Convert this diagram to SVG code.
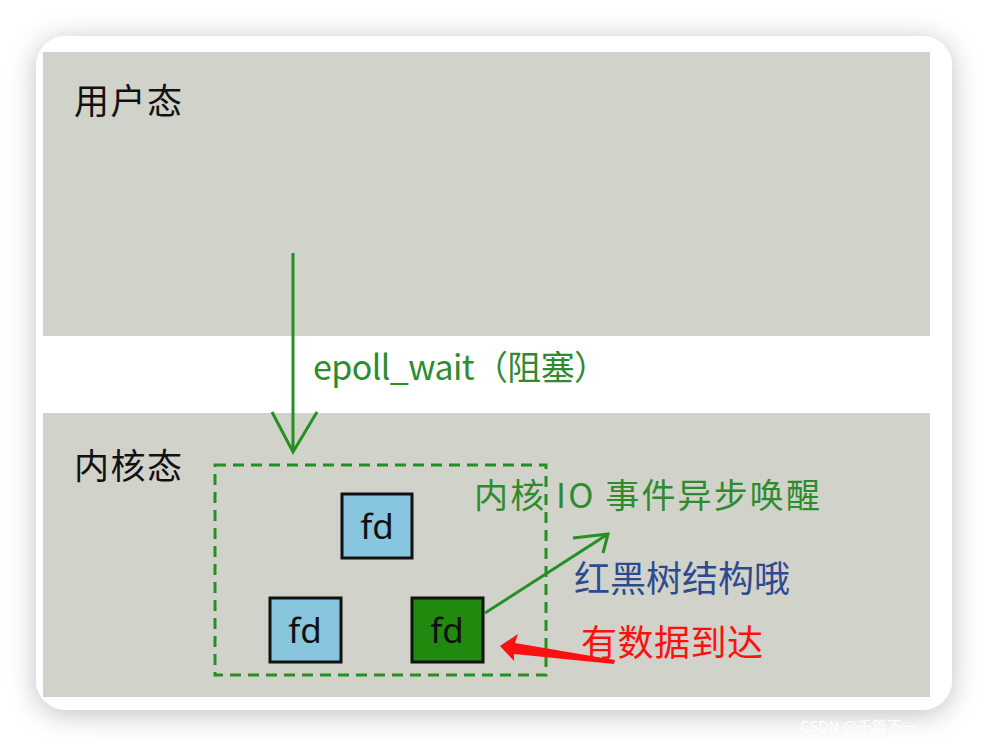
<svg xmlns="http://www.w3.org/2000/svg" width="988" height="748" viewBox="0 0 988 748">
<defs>
<filter id="sh" x="-10%" y="-10%" width="120%" height="120%">
<feDropShadow dx="0" dy="4" stdDeviation="14" flood-color="#000" flood-opacity="0.25"/>
</filter>
<style>
.t{font-family:"Noto Sans CJK SC","Microsoft YaHei",sans-serif;}
.lbl{font-size:35px;fill:#111;}
.g{fill:#2e8b2e;font-size:34px;}
.fdbox{stroke:#111;stroke-width:3;}
.fdt{font-family:"Noto Sans","Liberation Sans",sans-serif;font-size:35px;fill:#111;text-anchor:middle;}
.gl{stroke:#249024;stroke-width:3;fill:none;}
</style>
</defs>
<rect x="0" y="0" width="988" height="748" fill="#ffffff"/>
<rect x="36" y="36" width="916" height="674" rx="30" fill="#ffffff" filter="url(#sh)"/>
<rect x="43" y="52" width="887" height="284" fill="#d1d2ca"/>
<rect x="43" y="413" width="887" height="284" fill="#d1d2ca"/>
<g id="user-label"><text class="t lbl" x="74" y="114" textLength="108">用户态</text></g>
<g id="kernel-label"><text class="t lbl" x="74" y="479" textLength="108">内核态</text></g>
<g id="epoll-set"><rect x="215" y="465" width="331" height="210" fill="none" stroke="#249024" stroke-width="3" stroke-dasharray="11,7"/></g>
<g id="fd1"><rect class="fdbox" x="342" y="494" width="70" height="64" fill="#88c6df"/><text class="fdt" x="377" y="539">fd</text></g>
<g id="fd2"><rect class="fdbox" x="270" y="598" width="71" height="64" fill="#88c6df"/><text class="fdt" x="305" y="643">fd</text></g>
<g id="fd3"><rect class="fdbox" x="412" y="598" width="71" height="64" fill="#1f8a0e"/><text class="fdt" x="447" y="643">fd</text></g>
<g id="connectors">
<path class="gl" d="M293 253 V452 M272 412 L293 452 L317 412"/>
<path class="gl" d="M485 613 L608 534 M573 538 L608 534 L603 553"/>
<polygon points="500,646 518,634 515,643 615,660 614,664 514,654 514,661" fill="#ff1010"/>
</g>
<g id="texts">
<text class="t g" x="313" y="380" textLength="295">epoll_wait（阻塞）</text>
<text class="t g" x="474" y="508" textLength="346" font-size="36">内核 IO 事件异步唤醒</text>
<text class="t" x="574" y="592" font-size="36" fill="#2d4b91" textLength="216">红黑树结构哦</text>
<text class="t" x="581" y="656" font-size="36" fill="#ff1010" textLength="182">有数据到达</text>
<text class="t" x="800" y="732" font-size="15" fill="#ffffff">CSDN @千篇不一</text>
</g>
</svg>
